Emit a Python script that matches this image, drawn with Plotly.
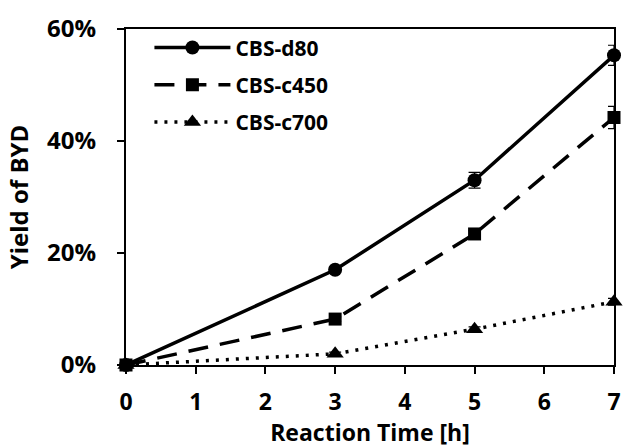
import plotly.graph_objects as go

time_h = [0, 3, 5, 7]
d80 = [0.0, 17.0, 33.0, 55.3]
d80_err = [0.0, 0.5, 1.4, 1.8]
c450 = [0.0, 8.2, 23.4, 44.2]
c450_err = [0.0, 0.4, 0.6, 2.0]
c700 = [0.0, 2.0, 6.4, 11.3]
c700_err = [0.0, 0.3, 0.4, 0.6]

names = ["CBS-d80", "CBS-c450", "CBS-c700"]
ys = [d80, c450, c700]
errs = [d80_err, c450_err, c700_err]
symbols = ["circle", "square", "triangle-up"]
dashes = ["solid", "20px,12px", "3px,7px"]
msizes = [14, 13, 15]

FONT = "Open Sans"
fig = go.Figure()
for i, (n, y, e, s, d, ms) in enumerate(zip(names, ys, errs, symbols, dashes, msizes)):
    fig.add_trace(go.Scatter(
        x=time_h, y=[v / 100 for v in y], name=n, mode="lines+markers",
        legendgroup=f"g{i}",
        line=dict(color="black", width=3.5, dash=d),
        marker=dict(symbol=s, size=ms, color="black"),
        error_y=dict(type="data", array=[v / 100 for v in e], color="black", thickness=1.2, width=6),
        cliponaxis=False,
    ))

fig.update_layout(
    width=627, height=448,
    margin=dict(l=126, r=6, t=29, b=83),
    plot_bgcolor="white", paper_bgcolor="white",
    font=dict(family=FONT, size=22, color="black"),
    showlegend=True,
    legend=dict(x=0.048, y=1.005, xanchor="left", yanchor="top",
                font=dict(family=FONT, size=21, color="black", weight="bold"),
                bgcolor="rgba(0,0,0,0)", itemwidth=76, tracegroupgap=7),
    xaxis=dict(range=[0, 7], tickvals=[0, 1, 2, 3, 4, 5, 6, 7],
               showgrid=False, zeroline=False, showline=True, linecolor="black", linewidth=2,
               mirror=True, ticks="outside", ticklen=7, tickwidth=1.5, tickcolor="black",
               ticklabelstandoff=8,
               tickfont=dict(family=FONT, size=23, weight="bold"),
               title=dict(text="Reaction Time [h]", font=dict(family=FONT, size=23, weight="bold"), standoff=2)),
    yaxis=dict(range=[0, 0.6], tickvals=[0, 0.2, 0.4, 0.6], tickformat=".0%",
               showgrid=False, zeroline=False, showline=True, linecolor="black", linewidth=2,
               mirror=True, ticks="outside", ticklen=7, tickwidth=1.5, tickcolor="black",
               ticklabelstandoff=16,
               tickfont=dict(family=FONT, size=24, weight="bold"),
               title=dict(text="Yield of BYD", font=dict(family=FONT, size=24, weight="bold"), standoff=12)),
)

fig.write_html("out.html")
